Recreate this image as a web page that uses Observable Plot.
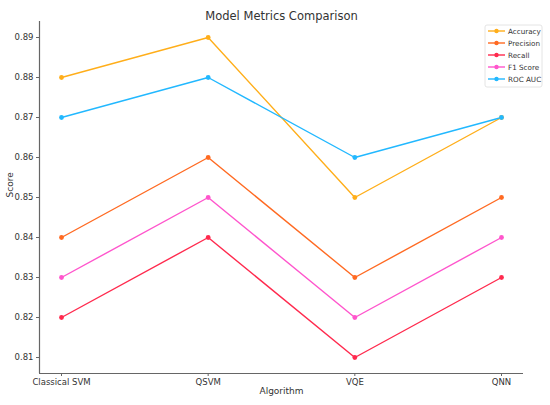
<!DOCTYPE html>
<html>
<head>
<meta charset="utf-8">
<script src="https://cdn.jsdelivr.net/npm/d3@7"></script>
<script src="https://cdn.jsdelivr.net/npm/@observablehq/plot@0.6"></script>
<style>
  body { margin: 0; background: #fff; }
  #chart { width: 550px; height: 405px; }
</style>
</head>
<body>
<div id="chart"></div>
<script>
const algorithms = ["Classical SVM", "QSVM", "VQE", "QNN"];
const seriesNames = ["Accuracy", "Precision", "Recall", "F1 Score", "ROC AUC"];
const seriesColors = ["#FFAE1A", "#FF6A22", "#FF2A4E", "#FF55CC", "#22B8FF"];
const accuracy = [0.88, 0.89, 0.85, 0.87];
const precision = [0.84, 0.86, 0.83, 0.85];
const recall = [0.82, 0.84, 0.81, 0.83];
const f1Score = [0.83, 0.85, 0.82, 0.84];
const rocAuc = [0.87, 0.88, 0.86, 0.87];
const yTicks = [0.81, 0.82, 0.83, 0.84, 0.85, 0.86, 0.87, 0.88, 0.89];

const seriesValues = [accuracy, precision, recall, f1Score, rocAuc];
const rows = [];
seriesNames.forEach((name, s) => {
  seriesValues[s].forEach((v, i) => rows.push({series: name, i, value: v}));
});

const xDomain = [-0.15, algorithms.length - 1 + 0.15];
const yDomain = [0.806, 0.894];
const axisColor = "#666";
const textColor = "#333";

const plot = Plot.plot({
  width: 550,
  height: 405,
  marginLeft: 39,
  marginRight: 27,
  marginTop: 21,
  marginBottom: 32,
  style: {fontFamily: "DejaVu Sans", fontSize: "8.5px", color: textColor, background: "#fff"},
  x: {type: "linear", domain: xDomain, label: null},
  y: {domain: yDomain, label: null},
  color: {domain: seriesNames, range: seriesColors},
  marks: [
    Plot.axisX({ticks: algorithms.map((d, i) => i), tickFormat: i => algorithms[i], tickSize: 3, tickPadding: 2, stroke: axisColor, fill: textColor, label: null}),
    Plot.axisY({ticks: yTicks, tickFormat: d3.format(".2f"), tickSize: 3, tickPadding: 3, stroke: axisColor, fill: textColor, label: null}),
    Plot.ruleX([xDomain[0]], {stroke: axisColor, strokeWidth: 1.2}),
    Plot.ruleY([yDomain[0]], {stroke: axisColor, strokeWidth: 1.2}),
    Plot.line(rows, {x: "i", y: "value", z: "series", stroke: "series", strokeWidth: 1.4}),
    Plot.dot(rows, {x: "i", y: "value", fill: "series", r: 2.4}),
    Plot.text(["Model Metrics Comparison"], {frameAnchor: "top", dy: -10, fontSize: 11.5, fill: textColor}),
    Plot.text(["Algorithm"], {frameAnchor: "bottom", dy: 20, fontSize: 9, fill: textColor}),
    Plot.text(["Score"], {frameAnchor: "left", dx: -29, rotate: -90, fontSize: 9, fill: textColor})
  ]
});

document.getElementById("chart").appendChild(plot);

// legend (drawn inside the plot's svg)
const svg = d3.select(plot);
const lg = svg.append("g").attr("font-family", "DejaVu Sans").attr("font-size", 7.2).attr("text-anchor", "start");
const lx = 485, ly = 25;
lg.append("rect").attr("x", lx).attr("y", ly).attr("width", 57).attr("height", 62)
  .attr("rx", 2).attr("fill", "#fff").attr("stroke", "#ddd").attr("stroke-width", 0.8);
seriesNames.forEach((name, k) => {
  const y = ly + 6 + k * 12;
  lg.append("line").attr("x1", lx + 3).attr("x2", lx + 20).attr("y1", y).attr("y2", y)
    .attr("stroke", seriesColors[k]).attr("stroke-width", 1.4);
  lg.append("circle").attr("cx", lx + 11.5).attr("cy", y).attr("r", 2.2).attr("fill", seriesColors[k]);
  lg.append("text").attr("x", lx + 23).attr("y", y).attr("dy", "0.35em")
    .attr("text-anchor", "start").attr("fill", textColor).text(name);
});
</script>
</body>
</html>
